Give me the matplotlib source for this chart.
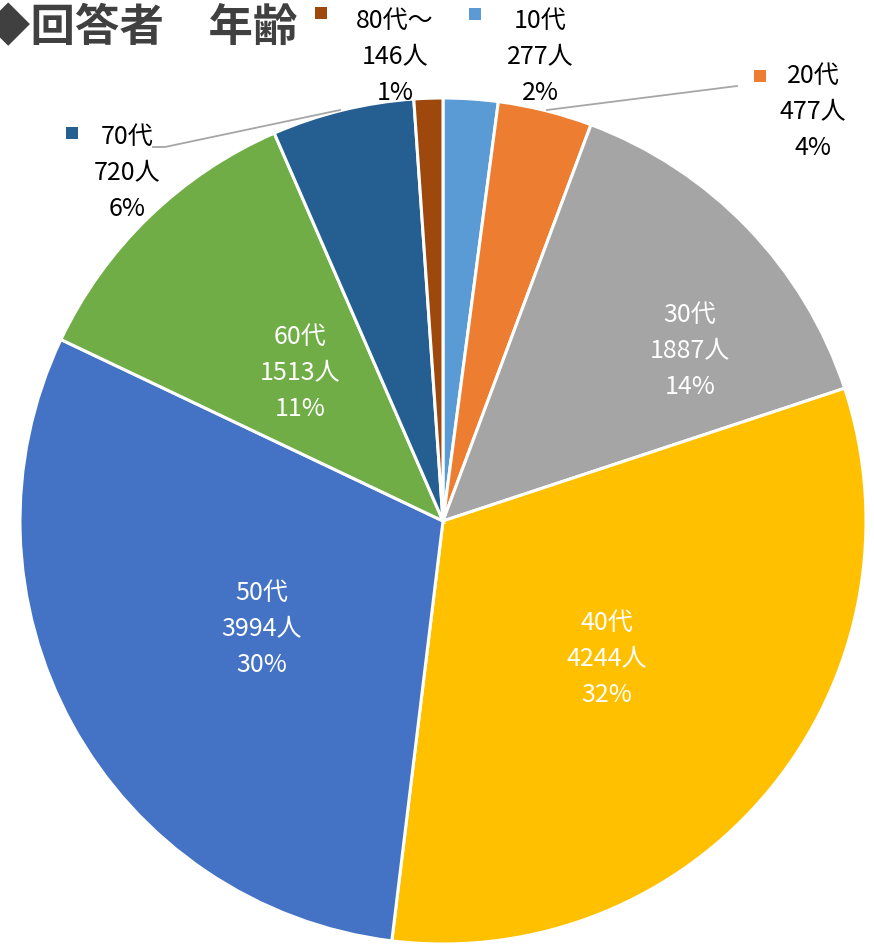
import matplotlib
matplotlib.use("Agg")
import matplotlib.pyplot as plt

plt.rcParams["font.family"] = ["Noto Sans CJK JP", "DejaVu Sans"]

# data
ages = ["10代", "20代", "30代", "40代", "50代", "60代", "70代", "80代～"]
counts = [277, 477, 1887, 4244, 3994, 1513, 720, 146]
colors = ["#5B9BD5", "#ED7D31", "#A5A5A5", "#FFC000",
          "#4472C4", "#70AD47", "#255E91", "#9E480E"]

W, H = 874, 947
total = sum(counts)

# percentages rounded so they add up to 100 (largest remainder, like Excel)
raw = [c / total * 100 for c in counts]
pcts = [int(v) for v in raw]
order = sorted(range(len(raw)), key=lambda i: raw[i] - pcts[i], reverse=True)
for i in order[: 100 - sum(pcts)]:
    pcts[i] += 1

fig = plt.figure(figsize=(W / 100, H / 100), dpi=100)
ax = fig.add_axes([0, 0, 1, 1])

cx, cy, r = 443, H - 521, 423
ax.pie(counts, colors=colors, startangle=90, counterclock=False,
       center=(cx, cy), radius=r, frame=True,
       wedgeprops=dict(edgecolor="white", linewidth=2.2))
ax.set_xlim(0, W)
ax.set_ylim(0, H)
ax.set_aspect("equal")
ax.axis("off")

# label layout (pixel coords, top-left origin): x, y, inside?
label_pos = {
    "10代": (540, 57, False),
    "20代": (813, 112, False),
    "30代": (690, 351, True),
    "40代": (607, 659, True),
    "50代": (262, 629, True),
    "60代": (300, 373, True),
    "70代": (127, 173, False),
    "80代～": (395, 57, False),
}
marker_pos = {
    "10代": (475, 14), "20代": (760, 76), "70代": (72, 133), "80代～": (321, 13),
}

for name, n, pct, col in zip(ages, counts, pcts, colors):
    x, y, inside = label_pos[name]
    txt = f"{name}\n{n}人\n{pct}%"
    ax.text(x, H - y, txt, ha="center", va="center", fontsize=18,
            linespacing=1.5, color="white" if inside else "black")
    if name in marker_pos:
        mx, my = marker_pos[name]
        ax.scatter([mx], [H - my], marker="s", s=65, color=col, linewidths=0)

# leader lines
ax.plot([547, 737], [H - 110, H - 86], color="#A6A6A6", lw=1.3)
ax.plot([340, 165, 153], [H - 110, H - 147, H - 147], color="#A6A6A6", lw=1.3)

# title
fig.text(-14 / W, 1 - 28 / H, "◆回答者　年齢", ha="left", va="center",
         fontsize=32, fontweight="bold", color="#404040")

fig.savefig("out.png", dpi=100)
